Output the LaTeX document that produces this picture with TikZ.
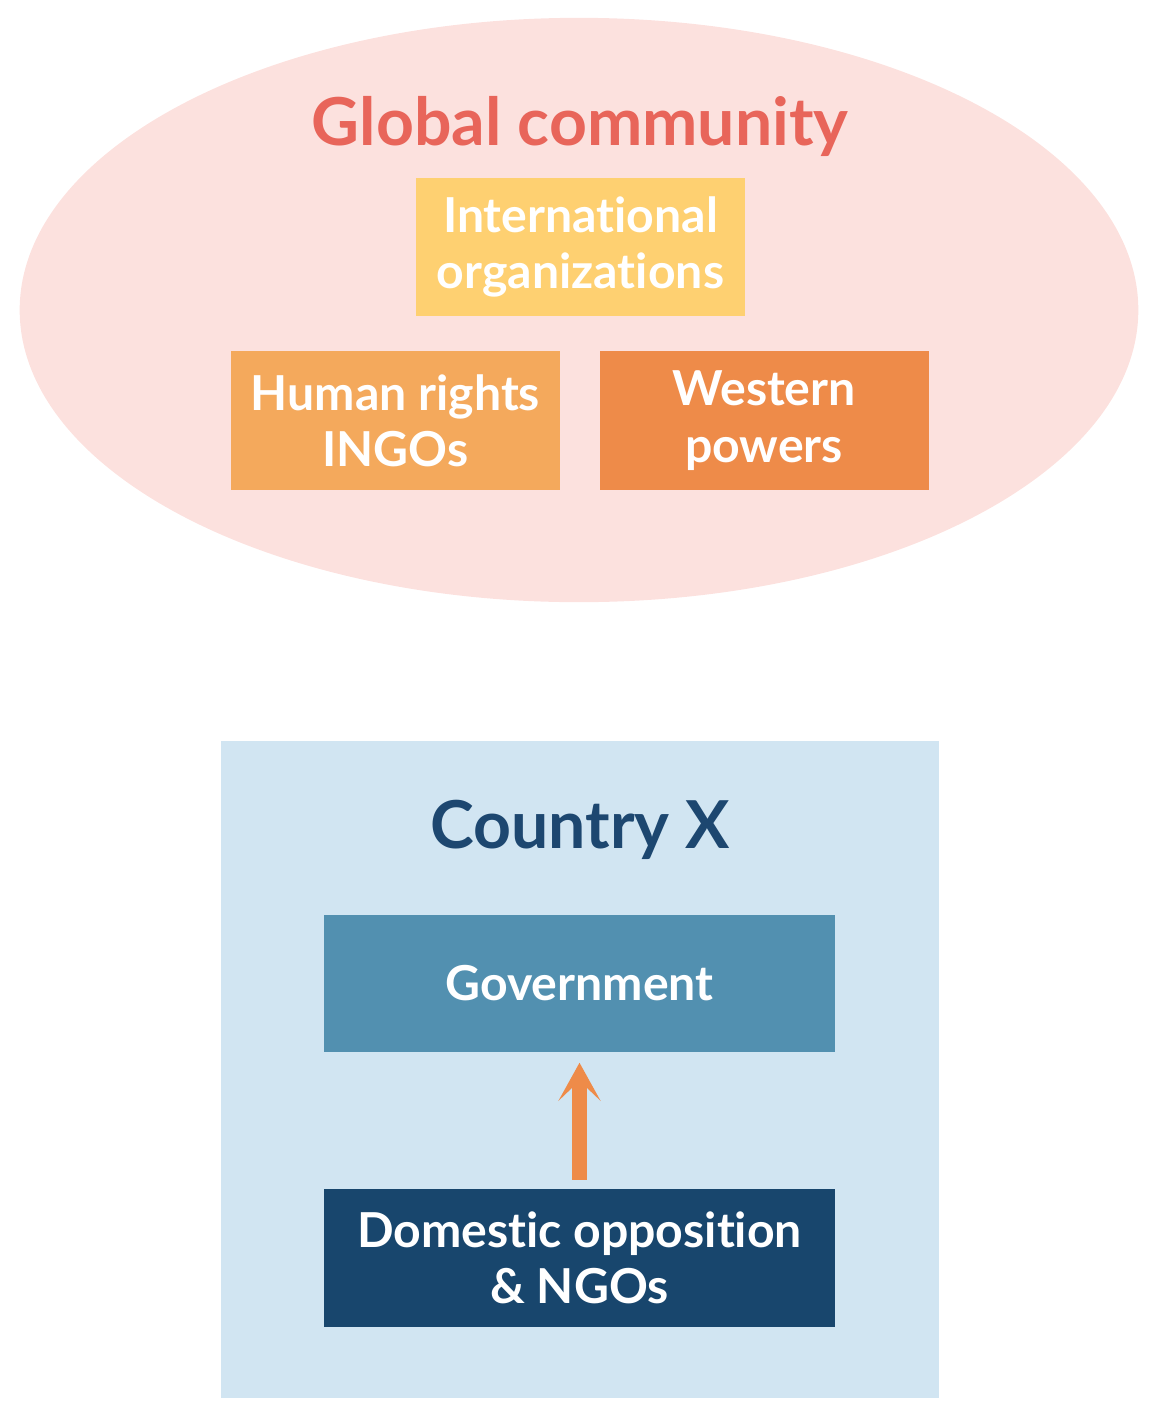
\documentclass[tikz,border=0pt]{standalone}
\usepackage{fontspec}
\setmainfont{Lato}[Ligatures=NoCommon]
\usetikzlibrary{arrows.meta,positioning,shapes.geometric}

\definecolor{globalfill}{HTML}{FCE1DE}
\definecolor{globaltext}{HTML}{E8655A}
\definecolor{orgfill}{HTML}{FED071}
\definecolor{ingofill}{HTML}{F4A95C}
\definecolor{westfill}{HTML}{EE8B49}
\definecolor{countryfill}{HTML}{D1E5F2}
\definecolor{countrytext}{HTML}{1D4770}
\definecolor{govfill}{HTML}{5290B0}
\definecolor{oppfill}{HTML}{18466D}

\begin{document}
\begin{tikzpicture}[
      x=0.01cm, y=-0.01cm,
      node distance=0.35cm and 0.38cm,
      box/.style={minimum width=3.29cm, minimum height=1.38cm, inner sep=0pt,
        align=center, text=white, font=\bfseries\fontsize{13.7}{16}\selectfont},
      orgbox/.style={box, fill=orgfill},
      ingobox/.style={box, fill=ingofill},
      westbox/.style={box, fill=westfill},
      statebox/.style={box, minimum width=5.11cm, minimum height=1.37cm},
      title/.style={anchor=base, font=\bfseries\fontsize{18.8}{22}\selectfont},
      arrow/.style={-{Stealth[length=0.38cm, width=0.42cm, inset=0.2cm]},
        line width=0.15cm, draw=westfill, shorten <=0.09cm, shorten >=0.1cm}
    ]
    \useasboundingbox (0,0) rectangle (1155,1418);

    % global community
    \node[ellipse, fill=globalfill, minimum width=11.18cm, minimum height=5.84cm,
      inner sep=0pt] (global) at (579,310) {};
    \node[title, text=globaltext] (globalTitle) at (580,145) {Global community};
    \node[orgbox] (intOrgs) at (580.5,247) {International\\organizations};
    \node[ingobox] (ingos) at (395.5,420.5) {Human rights\\INGOs};
    \node[westbox, right=of ingos] (western) {Western\\powers};

    % country
    \node[fill=countryfill, minimum width=7.18cm, minimum height=6.57cm,
      inner sep=0pt] (country) at (580,1069.5) {};
    \node[title, text=countrytext] (countryTitle) at (580,848) {Country X};
    \node[statebox, fill=govfill] (government) at (579.5,983.5) {Government};
    \node[statebox, fill=oppfill] (opposition) at (579.5,1258)
      {Domestic opposition\\\& NGOs};

    \draw[arrow] (opposition) -- (government);
  \end{tikzpicture}
\end{document}
